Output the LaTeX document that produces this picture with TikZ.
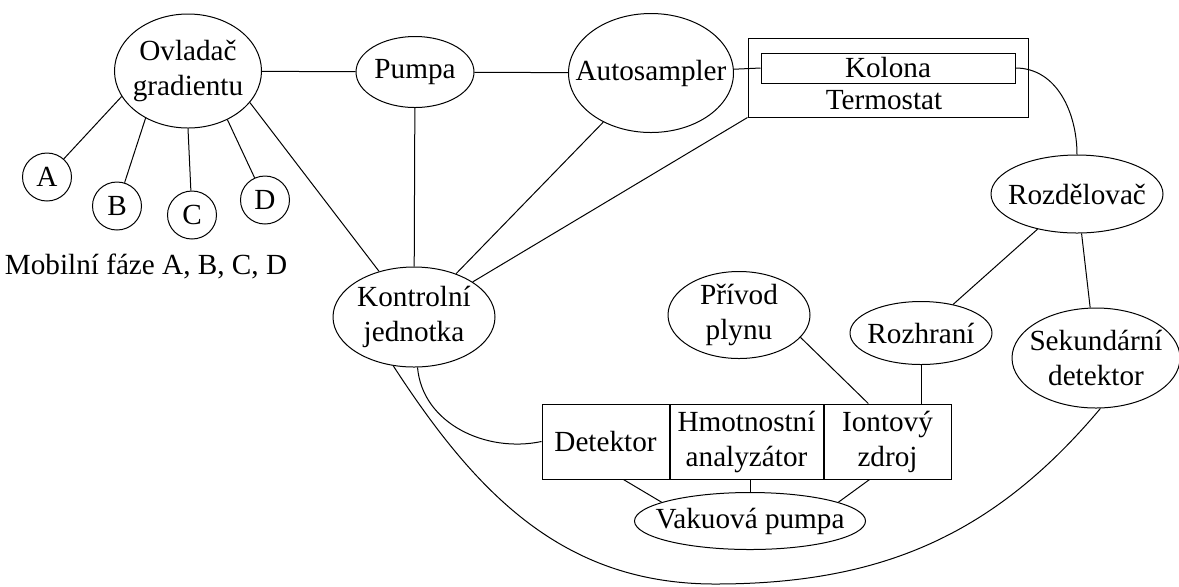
\documentclass[tikz,border=0pt]{standalone}
\usepackage{fontspec}
\setmainfont{Liberation Serif}
\usepackage{tikz}
\usetikzlibrary{shapes.geometric}
\usetikzlibrary{positioning}
\usetikzlibrary{calc}
\tikzset{
every picture/.style={line width=0.5pt},
%%%%%%%%%%  Node styles
unit/.style={ellipse,draw,inner sep=-20pt,align=center},
phase/.style={ellipse,draw,inner sep=-20pt,minimum width=24.5pt,minimum height=24pt},
cell/.style={rectangle,draw,inner sep=0pt,align=center,minimum height=37.5pt},
frame/.style={rectangle,draw,inner sep=0pt},
plain/.style={inner sep=0pt},
%%%%%%% line styles
link/.style={line width=0.5pt}
}

\begin{document}
\begin{tikzpicture}[x=0.5pt,y=-0.5pt,font=\fontsize{14.6}{17.5}\selectfont]
\useasboundingbox (0,0) rectangle (1179,586);
%% gradient and mobile phases
\node[unit,minimum width=73.5pt,minimum height=57pt] (ovl) at (188,71) {Ovladač\\gradientu};
\node[phase] (A) at (47,177) {A};
\node[phase] (B) at (117,206) {B};
\node[phase] (C) at (192,215) {C};
\node[phase] (D) at (265,200) {D};
\node[plain] (mob) at (146,266) {Mobilní fáze A, B, C, D};
%% LC part
\node[unit,minimum width=59pt,minimum height=35.5pt] (pumpa) at (415,72) {Pumpa};
\node[unit,minimum width=82.5pt,minimum height=59.5pt] (auto) at (651,73) {Autosampler};
\node[frame,minimum width=140pt,minimum height=39.5pt] (termo) at (888,77.5) {};
\node[frame,minimum width=127pt,minimum height=15pt] (kolona) at (888,68) {Kolona};
\node[plain] (termtext) at (884,100) {Termostat};
\node[unit,minimum width=86pt,minimum height=39pt] (rozd) at (1077,194) {Rozdělovač};
\node[unit,minimum width=81pt,minimum height=50pt] (kontrol) at (414,317) {Kontrolní\\jednotka};
%% MS part
\node[unit,minimum width=71pt,minimum height=43.5pt] (privod) at (739,315) {Přívod\\plynu};
\node[unit,minimum width=71pt,minimum height=31.5pt] (rozhr) at (921,333) {Rozhraní};
\node[unit,minimum width=84pt,minimum height=50pt] (sek) at (1096,358) {Sekundární\\detektor};
\node[cell,minimum width=63.5pt] (det) at (605.5,441.5) {Detektor};
\node[cell,minimum width=76.5pt,right=0pt of det] (hmot) {Hmotnostní\\analyzátor};
\node[cell,minimum width=63.5pt,right=0pt of hmot] (ion) {Iontový\\zdroj};
\node[unit,minimum width=115.5pt,minimum height=28.5pt] (vak) at (750,521) {Vakuová pumpa};
\coordinate (arcbot) at (715,584);
%% connections around the gradient controller
\draw[link] (ovl.201) -- (A);
\draw[link] (ovl.228) -- (B);
\draw[link] (ovl.270) -- (C);
\draw[link] (ovl.309) -- (D);
\draw[link] (ovl) -- (pumpa);
\draw[link] (ovl.333) -- (kontrol);
%% LC line
\draw[link] (pumpa) -- (auto);
\draw[link] (auto) -- (kolona.west);
\draw[link] (kolona.east) to[out=0,in=90] (rozd.north);
\draw[link] (pumpa) -- (kontrol);
\draw[link] (auto) -- (kontrol);
\draw[link] (termo.south west) -- (kontrol);
\draw[link] (rozd) -- (rozhr);
\draw[link] (rozd) -- (sek);
%% MS line
\draw[link] (privod.-20) -- ($(ion.north west)!0.35!(ion.north east)$);
\draw[link] (rozhr) -- (rozhr |- ion.north);
\draw[link] ($(det.south west)!0.64!(det.south east)$) -- (vak.168);
\draw[link] (vak.north) -- (vak.north |- hmot.south);
\draw[link] ($(ion.south west)!0.36!(ion.south east)$) -- (vak.12);
%% control unit cables
\draw[link] (kontrol.274) to[out=-85,in=192] (det.west);
\draw[link] (kontrol.247) to[out=-57,in=180] (arcbot)
	to[out=0,in=230] (sek.275);
\end{tikzpicture}
\end{document}
